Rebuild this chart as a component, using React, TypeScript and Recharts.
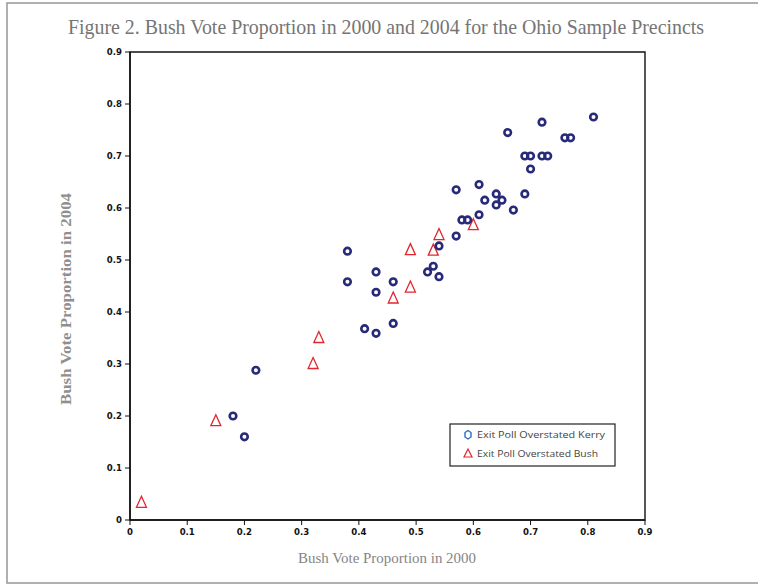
import React from 'react';
import { ScatterChart, Scatter, XAxis, YAxis, ReferenceArea, Customized } from 'recharts';

const kerry2000 = [0.81, 0.72, 0.66, 0.76, 0.77, 0.69, 0.70, 0.72, 0.73, 0.70, 0.61, 0.57, 0.69, 0.64, 0.62, 0.65, 0.64, 0.67, 0.61, 0.58, 0.59, 0.57, 0.54, 0.38, 0.53, 0.52, 0.43, 0.54, 0.38, 0.46, 0.43, 0.46, 0.41, 0.43, 0.22, 0.18, 0.20];
const kerry2004 = [0.775, 0.765, 0.745, 0.735, 0.735, 0.70, 0.70, 0.70, 0.70, 0.675, 0.645, 0.635, 0.627, 0.627, 0.615, 0.615, 0.606, 0.596, 0.587, 0.577, 0.577, 0.546, 0.527, 0.517, 0.488, 0.477, 0.477, 0.468, 0.458, 0.458, 0.438, 0.378, 0.368, 0.359, 0.288, 0.20, 0.16];
const bush2000 = [0.02, 0.15, 0.32, 0.33, 0.46, 0.49, 0.49, 0.53, 0.54, 0.60];
const bush2004 = [0.033, 0.19, 0.30, 0.35, 0.426, 0.447, 0.519, 0.518, 0.548, 0.567];

const xTicks = [0, 0.1, 0.2, 0.3, 0.4, 0.5, 0.6, 0.7, 0.8, 0.9];
const yTicks = [0, 0.1, 0.2, 0.3, 0.4, 0.5, 0.6, 0.7, 0.8, 0.9];
const seriesNames = ['Exit Poll Overstated Kerry', 'Exit Poll Overstated Bush'];
const titleText = 'Figure 2. Bush Vote Proportion in 2000 and 2004 for the Ohio Sample Precincts';
const xLabelText = 'Bush Vote Proportion in 2000';
const yLabelText = 'Bush Vote Proportion in 2004';

const kerryData = kerry2000.map((x, i) => ({ x, y: kerry2004[i] }));
const bushData = bush2000.map((x, i) => ({ x, y: bush2004[i] }));

const NAVY = '#272a78';
const RED = '#e2262e';
const tickFont = "'Liberation Sans Narrow', 'DejaVu Sans Condensed', sans-serif";
const serif = "'Liberation Serif', 'DejaVu Serif', serif";

const fmt = (v: number) => (v === 0 ? '0' : v.toFixed(1));

const KerryShape = (props: any) => {
  const { cx, cy } = props;
  if (cx == null || cy == null) return null;
  return <circle cx={cx} cy={cy} r={3.3} fill="none" stroke={NAVY} strokeWidth={2.6} />;
};

const BushShape = (props: any) => {
  const { cx, cy } = props;
  if (cx == null || cy == null) return null;
  const pts = `${cx},${cy - 6.5} ${cx + 5},${cy + 4.5} ${cx - 5},${cy + 4.5}`;
  return <polygon points={pts} fill="none" stroke={RED} strokeWidth={1.3} strokeLinejoin="miter" />;
};

const Decorations = () => (
  <g>
    <rect x={7} y={3} width={800} height={580} fill="none" stroke="#9d9d9d" strokeWidth={1.6} />
    <text x={68} y={34} fontFamily={serif} fontSize={21} fill="#757575" textLength={636} lengthAdjust="spacingAndGlyphs">
      {titleText}
    </text>
    <text x={298} y={563} fontFamily={serif} fontSize={14} fill="#858585" textLength={178} lengthAdjust="spacingAndGlyphs">
      {xLabelText}
    </text>
    <text
      x={0}
      y={0}
      transform="translate(71,405) rotate(-90)"
      fontFamily={serif}
      fontSize={15.5}
      fontWeight="bold"
      fill="#8f8f8f"
      textLength={212}
      lengthAdjust="spacingAndGlyphs"
    >
      {yLabelText}
    </text>
    <g>
      <rect x={450} y={424} width={165} height={42} fill="#fff" stroke="#222" strokeWidth={1.2} />
      <path d="M468,430.5 L471,432.5 L471,437 L468,439 L465,437 L465,432.5 Z" fill="none" stroke="#2a6fc5" strokeWidth={1.4} />
      <text x={477} y={438} fontFamily="'Open Sans', 'DejaVu Sans', sans-serif" fontSize={9.5} fill="#444" textLength={128} lengthAdjust="spacingAndGlyphs">
        {seriesNames[0]}
      </text>
      <polygon points="468,449 472,457 464,457" fill="none" stroke={RED} strokeWidth={1.2} />
      <text x={477} y={457} fontFamily="'Open Sans', 'DejaVu Sans', sans-serif" fontSize={9.5} fill="#444" textLength={121} lengthAdjust="spacingAndGlyphs">
        {seriesNames[1]}
      </text>
    </g>
  </g>
);

export default function App() {
  return (
    <div style={{ position: 'absolute', left: 0, top: 0, width: 758, height: 585, background: '#fff' }}>
      <ScatterChart width={758} height={585} margin={{ top: 52, right: 113, bottom: 35, left: 100 }}>
        <XAxis
          type="number"
          dataKey="x"
          domain={[0, 0.9]}
          ticks={xTicks}
          tickFormatter={fmt}
          height={30}
          axisLine={{ stroke: '#111', strokeWidth: 1.5 }}
          tickLine={{ stroke: '#111' }}
          tickSize={5}
          tickMargin={3}
          tick={{ fontSize: 9.5, fontWeight: 'bold', fill: '#111', fontFamily: tickFont }}
          interval={0}
          allowDataOverflow
        />
        <YAxis
          type="number"
          dataKey="y"
          domain={[0, 0.9]}
          ticks={yTicks}
          tickFormatter={fmt}
          width={30}
          axisLine={{ stroke: '#111', strokeWidth: 1.5 }}
          tickLine={{ stroke: '#111' }}
          tickSize={5}
          tickMargin={3}
          tick={{ fontSize: 9.5, fontWeight: 'bold', fill: '#111', fontFamily: tickFont }}
          interval={0}
          allowDataOverflow
        />
        <ReferenceArea x1={0} x2={0.9} y1={0} y2={0.9} fill="none" fillOpacity={0} stroke="#111" strokeWidth={1.4} ifOverflow="visible" />
        <Scatter name={seriesNames[1]} data={bushData} shape={<BushShape />} isAnimationActive={false} />
        <Scatter name={seriesNames[0]} data={kerryData} shape={<KerryShape />} isAnimationActive={false} />
        <Customized component={<Decorations />} />
      </ScatterChart>
    </div>
  );
}
